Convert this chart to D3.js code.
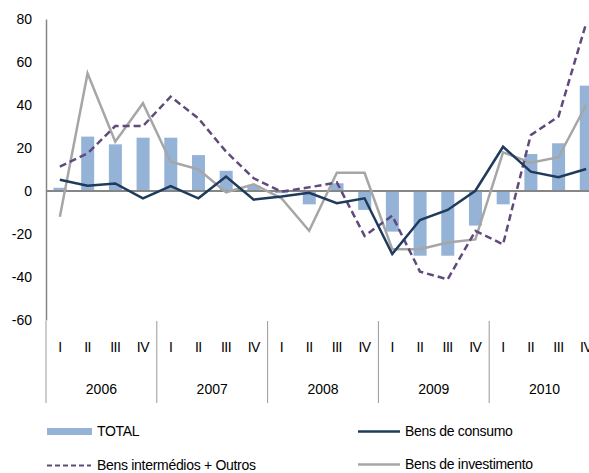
<!DOCTYPE html>
<html>
<head>
<meta charset="utf-8">
<script src="https://cdn.jsdelivr.net/npm/d3@7"></script>
<style>
	body { margin: 0; background: #fff; overflow: hidden; }
	svg { display: block; font-family: 'Liberation Sans', Arial, sans-serif; }
	.lbl { font-size: 14px; fill: #000; }
	.leg { font-size: 14px; fill: #000; letter-spacing: -0.3px; }
</style>
</head>
<body>
<svg id="chart"></svg>
<script>
const years = ['2006', '2007', '2008', '2009', '2010'];
const quarters = ['I', 'II', 'III', 'IV'];
const yTicks = [-60, -40, -20, 0, 20, 40, 60, 80];

const total = [1.5, 25.3, 21.7, 24.8, 24.8, 16.7, 9.4, 2.5, -1, -6.2, 3.6, -8.8, -18.9, -30.1, -30.1, -16.1, -6.2, 17.2, 22.2, 49];
const consumo = [5.2, 2.5, 3.5, -3.4, 2.3, -3.4, 6.7, -4, -2.6, -0.8, -5.7, -3.4, -29.3, -13.5, -8.8, 0.1, 20.6, 9, 6.4, 10.2];
const intermedios = [11.3, 17.5, 30.2, 30.2, 43.9, 33.8, 18.3, 5.9, -0.3, 1.7, 4, -20.9, -11.5, -37.5, -41.1, -18.6, -24.8, 26, 34.6, 78];
const investimento = [-12, 54.7, 22.9, 40.8, 13.6, 10.1, -0.6, 3.1, -3.4, -18.5, 8.5, 8.5, -27.1, -27.1, -24, -22.5, 18, 13.2, 15.7, 40];

const width = 589, height = 473;
const plotLeft = 46, plotRight = 600, plotTop = 19, plotBottom = 320;

const periods = [];
years.forEach(y => quarters.forEach(q => periods.push(y + '-' + q)));

const svg = d3.select('#chart').attr('width', width).attr('height', height);

const xScale = d3.scaleBand().domain(periods).range([plotLeft, plotRight]);
const yScale = d3.scaleLinear().domain([-60, 80]).range([plotBottom, plotTop]);
const yearScale = d3.scaleBand().domain(years).range([plotLeft, plotRight]);

// bars
svg.selectAll('.bar')
	.data(total)
	.enter()
	.append('rect')
	.attr('x', (d, i) => xScale(periods[i]) + xScale.bandwidth() * 0.27)
	.attr('width', xScale.bandwidth() * 0.47)
	.attr('y', d => yScale(Math.max(0, d)))
	.attr('height', d => Math.abs(yScale(d) - yScale(0)))
	.attr('fill', '#95b3d7');

// y axis
const yAxis = svg.append('g')
	.attr('transform', `translate(${plotLeft},0)`)
	.call(d3.axisLeft(yScale).tickValues(yTicks).tickSize(0).tickPadding(14)
		.tickFormat(d => String(d)));
yAxis.attr('font-family', null).attr('font-size', null);
yAxis.select('.domain').attr('stroke', '#868686').attr('stroke-width', 1.5);
yAxis.selectAll('text').attr('class', 'lbl');

// zero line
svg.append('line')
	.attr('x1', plotLeft).attr('x2', plotRight)
	.attr('y1', yScale(0)).attr('y2', yScale(0))
	.attr('stroke', '#868686').attr('stroke-width', 2);

const line = d3.line()
	.x((d, i) => xScale(periods[i]) + xScale.bandwidth() / 2)
	.y(d => yScale(d));

svg.append('path').datum(investimento)
	.attr('d', line).attr('fill', 'none')
	.attr('stroke', '#a6a6a6').attr('stroke-width', 2.5);

svg.append('path').datum(intermedios)
	.attr('d', line).attr('fill', 'none')
	.attr('stroke', '#604a7b').attr('stroke-width', 2.5)
	.attr('stroke-dasharray', '7,4');

svg.append('path').datum(consumo)
	.attr('d', line).attr('fill', 'none')
	.attr('stroke', '#1f3b5c').attr('stroke-width', 2.5);

// category axis: quarter and year labels with year separators
const catAxis = svg.append('g');
years.forEach(y => {
	catAxis.append('line')
		.attr('x1', yearScale(y)).attr('x2', yearScale(y))
		.attr('y1', plotBottom + 1).attr('y2', 403)
		.attr('stroke', '#999').attr('stroke-width', 1);
});
catAxis.selectAll('.q')
	.data(periods)
	.enter()
	.append('text')
	.attr('class', 'lbl')
	.attr('x', d => xScale(d) + xScale.bandwidth() / 2)
	.attr('y', 352)
	.attr('text-anchor', 'middle')
	.attr('letter-spacing', -0.5)
	.text(d => d.split('-')[1]);
catAxis.selectAll('.yr')
	.data(years)
	.enter()
	.append('text')
	.attr('class', 'lbl')
	.attr('x', d => yearScale(d) + yearScale.bandwidth() / 2)
	.attr('y', 394)
	.attr('text-anchor', 'middle')
	.text(d => d);

// legend
const legend = svg.append('g');
legend.append('rect')
	.attr('x', 47).attr('y', 428).attr('width', 45).attr('height', 7)
	.attr('fill', '#95b3d7');
legend.append('text').attr('class', 'leg').attr('x', 97).attr('y', 436).text('TOTAL');

legend.append('line')
	.attr('x1', 47).attr('x2', 91).attr('y1', 465.5).attr('y2', 465.5)
	.attr('stroke', '#604a7b').attr('stroke-width', 2).attr('stroke-dasharray', '5,3');
legend.append('text').attr('class', 'leg').attr('x', 97).attr('y', 470).text('Bens intermédios + Outros');

legend.append('line')
	.attr('x1', 358).attr('x2', 400).attr('y1', 431.5).attr('y2', 431.5)
	.attr('stroke', '#1f3b5c').attr('stroke-width', 2.5);
legend.append('text').attr('class', 'leg').attr('x', 405).attr('y', 436).text('Bens de consumo');

legend.append('line')
	.attr('x1', 358).attr('x2', 400).attr('y1', 464.5).attr('y2', 464.5)
	.attr('stroke', '#a6a6a6').attr('stroke-width', 2.5);
legend.append('text').attr('class', 'leg').attr('x', 405).attr('y', 469).text('Bens de investimento');
</script>
</body>
</html>
